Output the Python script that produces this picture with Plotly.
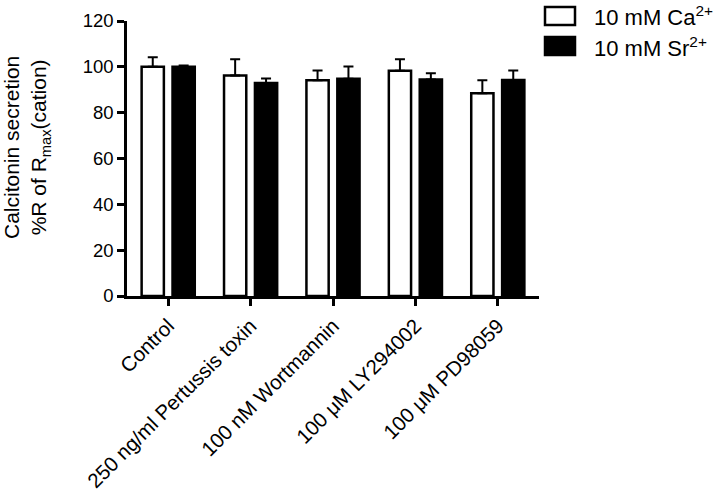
import plotly.graph_objects as go

categories = ["Control", "250 ng/ml Pertussis toxin", "100 nM Wortmannin",
              "100 \u03bcM LY294002", "100 \u03bcM PD98059"]
ca_values = [100.0, 96.2, 94.2, 98.3, 88.5]
ca_errors = [4.2, 7.1, 4.2, 5.0, 5.7]
sr_values = [100.0, 93.0, 94.8, 94.5, 94.3]
sr_errors = [0.6, 1.9, 5.3, 2.7, 4.1]
ca_name = "10 mM Ca<sup>2+</sup>"
sr_name = "10 mM Sr<sup>2+</sup>"
y_title = "Calcitonin secretion<br>%R of R<sub>max</sub>(cation)"
y_ticks = [0, 20, 40, 60, 80, 100, 120]

FONT = "Liberation Sans, Arial, Helvetica, sans-serif"

# plot area in pixels
L, R, T, B = 127, 539, 21, 296
PW, PH = R - L, B - T


def px(x):
    return (x - L) / PW


def py(y):
    return (B - y) / PH


fig = go.Figure()
fig.add_trace(go.Bar(
    x=categories, y=ca_values, name=ca_name,
    marker=dict(color="white", line=dict(color="black", width=2.5)),
    error_y=dict(type="data", array=ca_errors, arrayminus=[0] * len(ca_errors),
                 symmetric=False, color="black", thickness=2, width=5),
    showlegend=False,
))
fig.add_trace(go.Bar(
    x=categories, y=sr_values, name=sr_name,
    marker=dict(color="black", line=dict(color="black", width=2.5)),
    error_y=dict(type="data", array=sr_errors, arrayminus=[0] * len(sr_errors),
                 symmetric=False, color="black", thickness=2, width=5),
    showlegend=False,
))

# legend drawn manually (large boxes like the original)
fig.add_shape(type="rect", xref="paper", yref="paper",
              x0=px(545), x1=px(575), y0=py(25), y1=py(7),
              fillcolor="white", line=dict(color="black", width=2.5))
fig.add_shape(type="rect", xref="paper", yref="paper",
              x0=px(545), x1=px(575), y0=py(55), y1=py(37),
              fillcolor="black", line=dict(color="black", width=2.5))
fig.add_annotation(text=ca_name, xref="paper", yref="paper",
                   x=px(592), y=py(16), xanchor="left", yanchor="middle",
                   showarrow=False, font=dict(size=22, color="black", family=FONT))
fig.add_annotation(text=sr_name, xref="paper", yref="paper",
                   x=px(592), y=py(47), xanchor="left", yanchor="middle",
                   showarrow=False, font=dict(size=22, color="black", family=FONT))

# y-axis title
fig.add_annotation(text=y_title, xref="paper", yref="paper",
                   x=px(27), y=py(148), xanchor="center", yanchor="middle",
                   textangle=-90, showarrow=False,
                   font=dict(size=21, color="black", family=FONT))

fig.update_layout(
    width=720, height=491,
    margin=dict(l=L, r=720 - R, t=T, b=491 - B),
    paper_bgcolor="white", plot_bgcolor="white",
    barmode="group", bargap=0.25, bargroupgap=0.28,
    font=dict(family=FONT, size=18, color="black"),
    xaxis=dict(
        range=[-0.5, 4.5], tickangle=-45, automargin=False,
        showline=True, linecolor="black", linewidth=2.5,
        ticks="outside", ticklen=7, tickwidth=2.5, tickcolor="black",
        tickfont=dict(size=20.5, family=FONT), showgrid=False, zeroline=False,
    ),
    yaxis=dict(
        range=[0, 120], tickvals=y_ticks, automargin=False,
        showline=True, linecolor="black", linewidth=2.5,
        ticks="outside", ticklen=7, tickwidth=2.5, tickcolor="black",
        tickfont=dict(size=18.5, family=FONT), showgrid=False, zeroline=False,
    ),
)

fig.write_html("out.html", config={"displayModeBar": False},
               post_script="document.body.style.margin='0';")
